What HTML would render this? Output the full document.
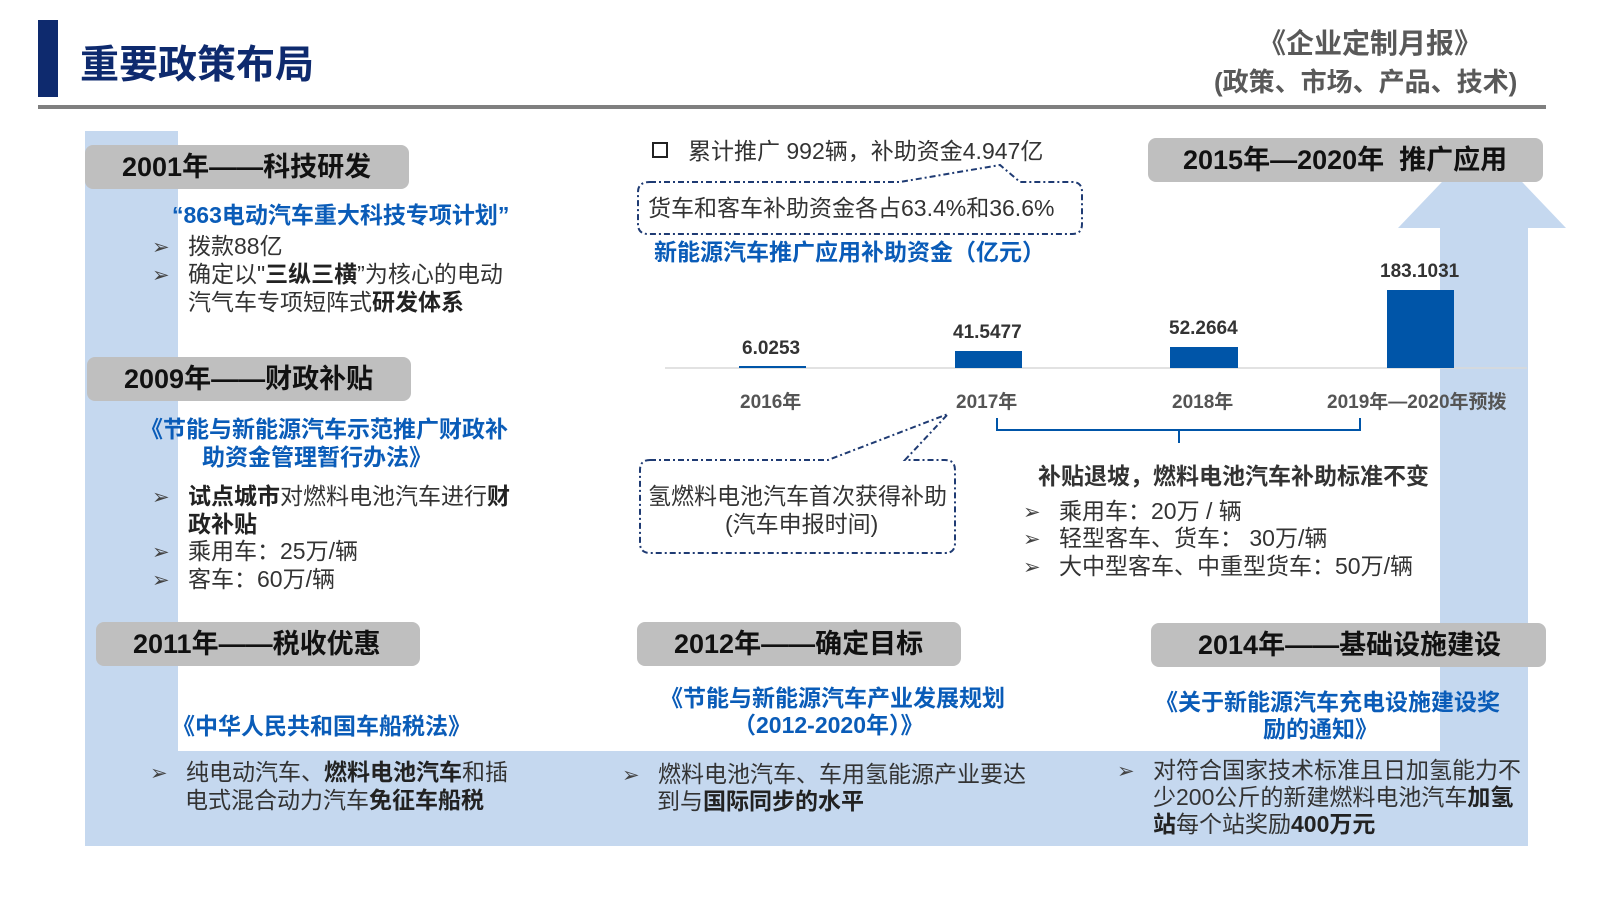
<!DOCTYPE html>
<html><head><meta charset="utf-8"><style>
body{margin:0;width:1600px;height:900px;position:relative;background:#fff;font-family:"Liberation Sans","Noto Sans CJK SC",sans-serif;overflow:hidden}
.a{position:absolute;white-space:nowrap}
.hd{position:absolute;background:#bfbfbf;border-radius:8px;font-weight:bold;font-size:27px;color:#111;box-sizing:border-box;line-height:44px}
.bl{color:#0a5cb8;font-weight:bold;font-size:23px}
.tx{color:#333;font-size:23px;line-height:28px}
.tx b{color:#222}
.ar{display:inline-block;width:36px;font-size:21px;color:#444}
.v{font-size:19px;font-weight:bold;color:#333}
.y{font-size:19px;font-weight:bold;color:#555}
</style></head><body>
<svg class="a" style="left:0;top:0" width="1600" height="900">
<g fill="#c5d8ef">
<rect x="85" y="131" width="93" height="715"/>
<rect x="85" y="751" width="1443" height="95"/>
<rect x="1440" y="228" width="88" height="618"/>
<polygon points="1398,228 1566,228 1482,140"/>
</g>
<rect x="38" y="20" width="20" height="77" fill="#0e2a6e"/>
<rect x="38" y="105" width="1508" height="4" fill="#7f7f7f"/>
<line x1="665" y1="368" x2="1527" y2="368" stroke="#d9d9d9" stroke-width="1.5"/>
<g fill="#0055a8">
<rect x="739" y="366" width="67" height="2"/>
<rect x="955" y="351" width="67" height="17"/>
<rect x="1170" y="347" width="68" height="21"/>
<rect x="1387" y="290" width="67" height="78"/>
</g>
<path d="M997,418 V430 H1179 V443 M1179,430 H1360 V418" fill="none" stroke="#0055a8" stroke-width="2"/>
<g fill="none" stroke="#1f3b73" stroke-width="2" stroke-dasharray="6,3,2,3">
<path d="M650,182 H900 L1000,165 L1020,182 H1072 Q1082,182 1082,192 V224 Q1082,234 1072,234 H648 Q638,234 638,224 V192 Q638,182 650,182Z"/>
<path d="M650,460 H828 L948,414 L905,460 H945 Q955,460 955,470 V543 Q955,553 945,553 H650 Q640,553 640,543 V470 Q640,460 650,460Z"/>
</g>
</svg>
<div class="a" style="left:80px;top:34px;font-size:39px;font-weight:bold;color:#0e2a6e">重要政策布局</div>
<div class="a" style="left:1258px;top:22px;font-size:28px;font-weight:bold;color:#595959">《企业定制月报》</div>
<div class="a" style="left:1214px;top:62px;font-size:26px;font-weight:bold;color:#595959">(政策、市场、产品、技术)</div>

<div class="hd" style="left:85px;top:145px;width:324px;height:44px;padding-left:37px">2001年——科技研发</div>
<div class="a bl" style="left:172px;top:196px">“863电动汽车重大科技专项计划”</div>
<div class="a tx" style="left:152px;top:232px"><span class="ar">➢</span>拨款88亿</div>
<div class="a tx" style="left:152px;top:260px"><span class="ar">➢</span>确定以"<b>三纵三横</b>”为核心的电动</div>
<div class="a tx" style="left:188px;top:288px">汽气车专项短阵式<b>研发体系</b></div>

<div class="hd" style="left:87px;top:357px;width:324px;height:44px;padding-left:37px">2009年——财政补贴</div>
<div class="a bl" style="left:140px;top:410px">《节能与新能源汽车示范推广财政补</div>
<div class="a bl" style="left:202px;top:438px">助资金管理暂行办法》</div>
<div class="a tx" style="left:152px;top:482px"><span class="ar">➢</span><b>试点城市</b>对燃料电池汽车进行<b>财</b></div>
<div class="a tx" style="left:188px;top:510px"><b>政补贴</b></div>
<div class="a tx" style="left:152px;top:537px"><span class="ar">➢</span>乘用车：25万/辆</div>
<div class="a tx" style="left:152px;top:565px"><span class="ar">➢</span>客车：60万/辆</div>

<div class="hd" style="left:96px;top:622px;width:324px;height:44px;padding-left:37px">2011年——税收优惠</div>
<div class="a bl" style="left:172px;top:707px">《中华人民共和国车船税法》</div>
<div class="a tx" style="left:150px;top:758px"><span class="ar">➢</span>纯电动汽车、<b>燃料电池汽车</b>和插</div>
<div class="a tx" style="left:185px;top:786px">电式混合动力汽车<b>免征车船税</b></div>

<div class="hd" style="left:637px;top:622px;width:324px;height:44px;padding-left:37px">2012年——确定目标</div>
<div class="a bl" style="left:660px;top:679px">《节能与新能源汽车产业发展规划</div>
<div class="a bl" style="left:733px;top:706px">（2012-2020年）》</div>
<div class="a tx" style="left:622px;top:760px"><span class="ar">➢</span>燃料电池汽车、车用氢能源产业要达</div>
<div class="a tx" style="left:657px;top:787px">到与<b>国际同步的水平</b></div>

<div class="hd" style="left:1151px;top:623px;width:395px;height:44px;padding-left:47px">2014年——基础设施建设</div>
<div class="a bl" style="left:1155px;top:683px">《关于新能源汽车充电设施建设奖</div>
<div class="a bl" style="left:1263px;top:710px">励的通知》</div>
<div class="a tx" style="left:1117px;top:756px"><span class="ar">➢</span>对符合国家技术标准且日加氢能力不</div>
<div class="a tx" style="left:1153px;top:783px">少200公斤的新建燃料电池汽车<b>加氢</b></div>
<div class="a tx" style="left:1153px;top:810px"><b>站</b>每个站奖励<b>400万元</b></div>

<div class="hd" style="left:1148px;top:138px;width:395px;height:44px;padding-left:35px">2015年—2020年&nbsp; 推广应用</div>

<div class="a tx" style="left:652px;top:137px"><span style="display:inline-block;width:12px;height:12px;border:2.5px solid #222;margin-right:20px;vertical-align:1px"></span>累计推广 992辆，补助资金4.947亿</div>
<div class="a tx" style="left:648px;top:194px">货车和客车补助资金各占63.4%和36.6%</div>
<div class="a bl" style="left:654px;top:233px">新能源汽车推广应用补助资金（亿元）</div>

<div class="a v" style="left:742px;top:338px">6.0253</div>
<div class="a v" style="left:953px;top:322px">41.5477</div>
<div class="a v" style="left:1169px;top:318px">52.2664</div>
<div class="a v" style="left:1380px;top:261px">183.1031</div>
<div class="a y" style="left:740px;top:387px">2016年</div>
<div class="a y" style="left:956px;top:387px">2017年</div>
<div class="a y" style="left:1172px;top:387px">2018年</div>
<div class="a y" style="left:1327px;top:387px">2019年—2020年预拨</div>

<div class="a tx" style="left:648px;top:482px">氢燃料电池汽车首次获得补助</div>
<div class="a tx" style="left:725px;top:510px">(汽车申报时间)</div>

<div class="a" style="left:1038px;top:457px;font-size:23px;font-weight:bold;color:#333">补贴退坡，燃料电池汽车补助标准不变</div>
<div class="a tx" style="left:1023px;top:497px"><span class="ar">➢</span>乘用车：20万 / 辆</div>
<div class="a tx" style="left:1023px;top:524px"><span class="ar">➢</span>轻型客车、货车： 30万/辆</div>
<div class="a tx" style="left:1023px;top:552px"><span class="ar">➢</span>大中型客车、中重型货车：50万/辆</div>
</body></html>
